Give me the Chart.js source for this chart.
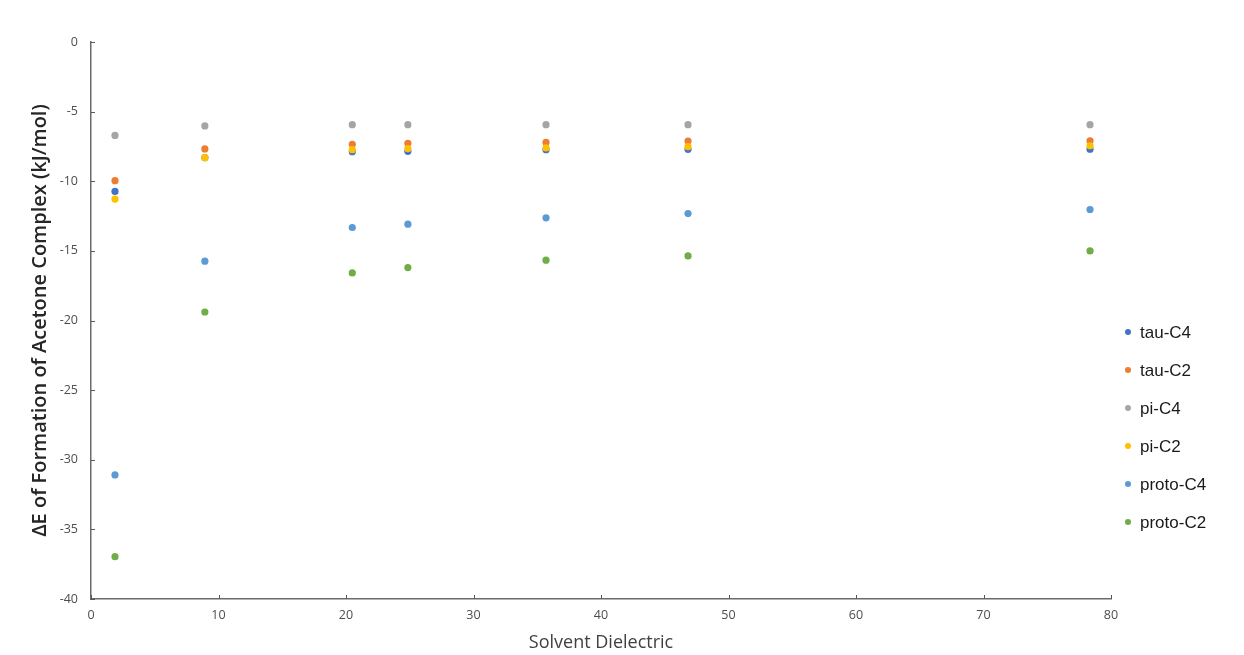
<!DOCTYPE html>
<html>
<head>
<meta charset="utf-8">
<script src="https://cdn.jsdelivr.net/npm/chart.js@4"></script>
<style>
  html, body { margin: 0; padding: 0; background: #fff; }
  #wrap { width: 1244px; height: 655px; position: relative; }
</style>
</head>
<body>
<div id="wrap"><canvas id="chart"></canvas></div>
<script>
// solvent dielectric constants (x)
const dielectric = [1.8819, 8.93, 20.493, 24.852, 35.688, 46.826, 78.3553];

// ΔE values, kJ/mol
const tauC4 = [-10.73, -8.30, -7.88, -7.85, -7.73, -7.71, -7.70];
const tauC2 = [-9.96, -7.68, -7.35, -7.28, -7.21, -7.11, -7.09];
const piC4 = [-6.71, -6.03, -5.94, -5.94, -5.94, -5.94, -5.94];
const piC2 = [-11.28, -8.31, -7.73, -7.66, -7.61, -7.52, -7.45];
const protoC4 = [-31.09, -15.74, -13.32, -13.08, -12.63, -12.32, -12.03];
const protoC2 = [-36.96, -19.39, -16.58, -16.20, -15.67, -15.36, -15.00];

const seriesNames = ['tau-C4', 'tau-C2', 'pi-C4', 'pi-C2', 'proto-C4', 'proto-C2'];
const seriesValues = [tauC4, tauC2, piC4, piC2, protoC4, protoC2];
const colors = ['#4472C4', '#ED7D31', '#A5A5A5', '#FFC000', '#5B9BD5', '#70AD47'];

const datasets = seriesNames.map((name, i) => ({
    label: name,
    data: dielectric.map((x, j) => ({ x: x, y: seriesValues[i][j] })),
    backgroundColor: colors[i],
    borderColor: colors[i],
    pointRadius: 3.6,
    pointBorderWidth: 0,
    showLine: false,
    order: seriesNames.length - i, // later series on top, like Excel
}));

// inward tick marks + right side legend
const extras = {
    id: 'extras',
    afterDraw(chart) {
        const ctx = chart.ctx;
        const xs = chart.scales.x;
        const ys = chart.scales.y;
        const area = chart.chartArea;
        ctx.save();
        ctx.strokeStyle = '#595959';
        ctx.lineWidth = 1;
        ctx.beginPath();
        xs.ticks.forEach(t => {
            const px = Math.round(xs.getPixelForValue(t.value)) + 0.5;
            ctx.moveTo(px, area.bottom);
            ctx.lineTo(px, area.bottom - 4);
        });
        ys.ticks.forEach(t => {
            const py = Math.round(ys.getPixelForValue(t.value)) + 0.5;
            ctx.moveTo(area.left, py);
            ctx.lineTo(area.left + 4, py);
        });
        ctx.stroke();

        // legend
        ctx.font = '17px "Liberation Sans", Arial, sans-serif';
        ctx.textBaseline = 'middle';
        chart.data.datasets.forEach((ds, i) => {
            const y = 332 + i * 38;
            ctx.beginPath();
            ctx.fillStyle = ds.backgroundColor;
            ctx.arc(1128, y, 3, 0, Math.PI * 2);
            ctx.fill();
            ctx.fillStyle = '#1a1a1a';
            ctx.fillText(ds.label, 1140, y + 1);
        });
        ctx.restore();
    }
};

new Chart(document.getElementById('chart').getContext('2d'), {
    type: 'scatter',
    data: { datasets: datasets },
    plugins: [extras],
    options: {
        responsive: true,
        maintainAspectRatio: false,
        animation: false,
        layout: { padding: { top: 42, right: 133, bottom: 0, left: 0 } },
        plugins: {
            legend: { display: false },
            tooltip: { enabled: false },
        },
        scales: {
            x: {
                type: 'linear',
                min: 0,
                max: 80,
                ticks: {
                    stepSize: 10,
                    color: '#4d4d4d',
                    padding: 1,
                    font: { family: '"Open Sans", sans-serif', size: 12.5 },
                },
                grid: { display: false },
                border: { display: true, color: '#6b6b6b', width: 1.5 },
                title: {
                    display: true,
                    text: 'Solvent Dielectric',
                    color: '#404040',
                    font: { family: '"Open Sans", sans-serif', size: 18 },
                    padding: { top: 0, bottom: 1 },
                },
                afterFit(scale) { scale.height = 56; },
            },
            y: {
                type: 'linear',
                min: -40,
                max: 0,
                ticks: {
                    stepSize: 5,
                    color: '#4d4d4d',
                    padding: 5,
                    font: { family: '"Open Sans", sans-serif', size: 12.5 },
                },
                grid: { display: false },
                border: { display: true, color: '#6b6b6b', width: 1.5 },
                title: {
                    display: true,
                    text: 'ΔE of Formation of Acetone Complex (kJ/mol)',
                    color: '#262626',
                    font: { family: '"Open Sans", sans-serif', size: 20, weight: '600' },
                    padding: { top: 28, bottom: 0 },
                },
                afterFit(scale) { scale.width = 91; },
            },
        },
    },
});
</script>
</body>
</html>
